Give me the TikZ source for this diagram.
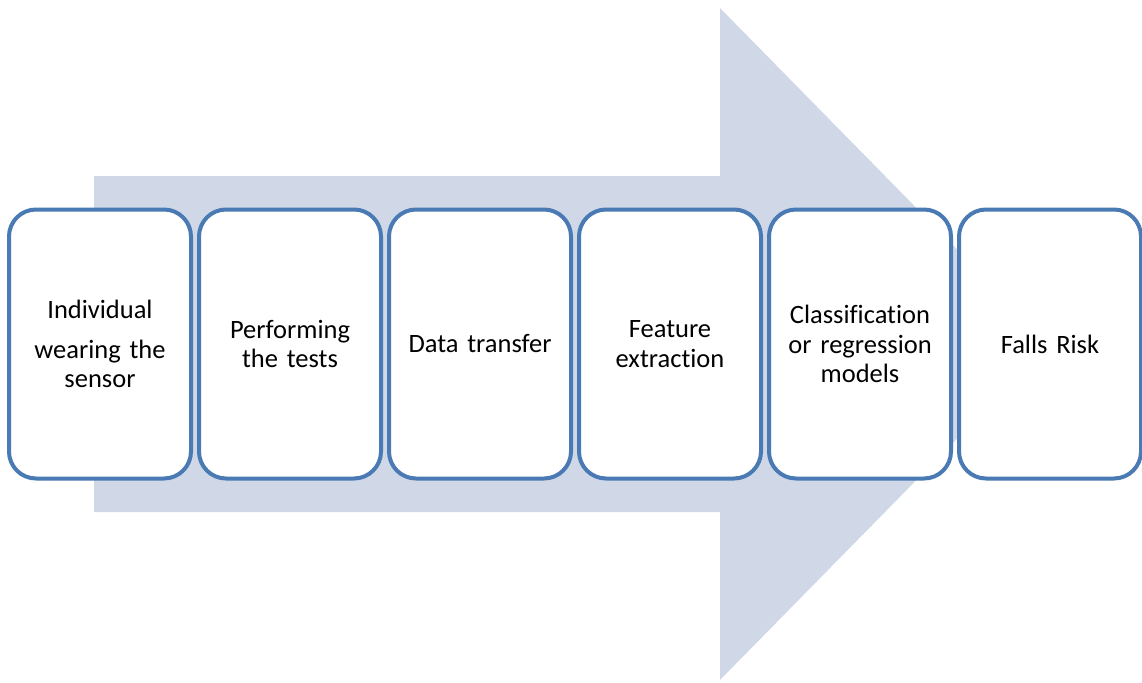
\documentclass[tikz,border=0pt]{standalone}
\usepackage{fontspec}
\setmainfont{Carlito}[Ligatures={NoCommon}]
\definecolor{arrowfill}{RGB}{208,216,232}
\definecolor{boxline}{RGB}{74,122,180}
\tikzset{
  stage/.style={draw=boxline, line width=4pt, fill=white, rounded corners=27pt,
    minimum width=182pt, minimum height=269pt, inner sep=0pt,
    text width=170pt, align=center,
    font=\fontsize{26.5}{29.5}\selectfont}
}
\begin{document}
\begin{tikzpicture}[x=1pt,y=-1pt]
  \useasboundingbox (0,0) rectangle (1142,682);
  % broad background arrow
  \fill[arrowfill] (94,176) -- (720,176) -- (720,8) -- (1050,344)
    -- (720,680) -- (720,512) -- (94,512) -- cycle;
  % process stages
  \node[stage] (s1) at (100,344) {Individual\\[10pt]wearing the\\sensor};
  \node[stage] (s2) at (290,344) {Performing\\the tests};
  \node[stage] (s3) at (480,344) {Data transfer};
  \node[stage] (s4) at (670,344) {Feature\\extraction};
  \node[stage] (s5) at (860,344) {Classification\\or regression\\models};
  \node[stage] (s6) at (1050,344) {Falls Risk};
\end{tikzpicture}
\end{document}
